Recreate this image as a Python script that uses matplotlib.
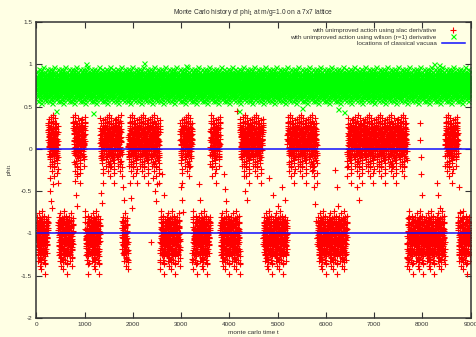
import matplotlib
matplotlib.use("Agg")
import matplotlib.pyplot as plt
import numpy as np

# regimes of the slac run: (end t, vacuum)
seg_end = [240, 450, 760, 1010, 1320, 1770, 1900, 2560, 2980, 3230, 3600, 3810,
           4220, 4700, 5200, 5820, 6440, 7680, 8470, 8740, 9000]
seg_vac = [-1, 0, -1, 0, -1, 0, -1, 0, -1, 0, -1, 0, -1, 0, -1, 0, -1, 0, -1, 0, -1]

# hand-read phi_1 wander around each vacuum (repeated along the run)
red_top_walk = [0.05, 0.12, 0.18, 0.1, 0.22, 0.28, 0.2, 0.3, 0.35, 0.26, 0.18, 0.24,
                0.15, 0.08, 0.14, 0.02, -0.06, 0.03, -0.1, -0.02, 0.07, 0.0, -0.12,
                -0.2, -0.08, 0.04, 0.12, 0.06, 0.16, 0.25, 0.32, 0.38, 0.3, 0.22, 0.27,
                0.17, 0.09, 0.19, 0.11, 0.01, -0.05, 0.06, -0.03, -0.15, -0.26, -0.18,
                -0.07, 0.02, 0.1, 0.21, 0.13, 0.23, 0.33, 0.4, 0.31, 0.24, 0.14, 0.2,
                0.08, -0.01, 0.09, -0.04, -0.14, -0.06, -0.22, -0.32, -0.2, -0.09, 0.0,
                0.11, 0.04, 0.15, 0.26, 0.19, 0.29, 0.36, 0.25, 0.16, 0.07, 0.13, 0.03,
                -0.08, 0.01, -0.11, -0.03, 0.08, 0.17, 0.1, 0.21, 0.3, 0.23, 0.12, 0.18,
                0.06, -0.02, -0.13, -0.05, 0.05, -0.07, -0.17, -0.28, -0.4, -0.24, -0.1,
                0.0, 0.09, 0.2, 0.27, 0.34, 0.24, 0.15, 0.22, 0.12, 0.04, 0.1, -0.01,
                0.07]
red_bottom_walk = [-1.05, -0.98, -0.9, -0.96, -0.86, -0.8, -0.88, -0.94, -1.02, -1.1,
                   -1.04, -1.15, -1.22, -1.14, -1.26, -1.33, -1.24, -1.18, -1.08, -1.0,
                   -0.93, -1.01, -0.91, -0.84, -0.76, -0.85, -0.92, -0.99, -1.07, -1.16,
                   -1.09, -1.2, -1.29, -1.38, -1.28, -1.19, -1.11, -1.03, -1.12, -0.97,
                   -0.89, -0.82, -0.9, -0.98, -1.06, -1.13, -1.21, -1.3, -1.23, -1.34,
                   -1.42, -1.31, -1.2, -1.1, -1.0, -0.92, -0.83, -0.74, -0.81, -0.87,
                   -0.95, -1.03, -1.11, -1.05, -1.17, -1.25, -1.15, -1.07, -0.99, -1.08,
                   -0.96, -0.88, -0.94, -1.02, -1.13, -1.24, -1.32, -1.22, -1.12, -1.04,
                   -0.95, -0.86, -0.79, -0.88, -0.97, -1.06, -1.0, -1.1, -1.19, -1.27,
                   -1.36, -1.48, -1.35, -1.21, -1.09, -0.98, -0.9, -0.83, -0.91, -1.01,
                   -1.09, -1.18, -1.1, -1.02, -0.93, -0.85, -0.93, -1.04, -1.14, -1.23,
                   -1.13, -1.06]
green_walk = [0.76, 0.72, 0.8, 0.85, 0.78, 0.7, 0.64, 0.71, 0.79, 0.86, 0.92, 0.84,
              0.77, 0.69, 0.62, 0.57, 0.65, 0.73, 0.81, 0.88, 0.82, 0.75, 0.68, 0.74,
              0.83, 0.9, 0.95, 0.87, 0.79, 0.72, 0.66, 0.6, 0.67, 0.75, 0.82, 0.78,
              0.71, 0.77, 0.85, 0.91, 0.84, 0.76, 0.69, 0.63, 0.58, 0.54, 0.61, 0.7,
              0.78, 0.86, 0.93, 0.88, 0.8, 0.73, 0.79, 0.74, 0.67, 0.72, 0.81, 0.87,
              0.83, 0.76, 0.7, 0.64, 0.69, 0.77, 0.84, 0.9, 0.97, 0.89, 0.81, 0.74,
              0.68, 0.62, 0.66, 0.73, 0.8, 0.75, 0.71, 0.78, 0.86, 0.82, 0.77, 0.7,
              0.63, 0.59, 0.65, 0.72, 0.79, 0.85, 0.91, 0.86, 0.78, 0.73, 0.68, 0.75,
              0.83, 0.89, 0.84, 0.76, 0.71, 0.65, 0.6, 0.56, 0.63, 0.71, 0.8, 0.87,
              0.94, 0.88, 0.82, 0.76, 0.7, 0.74, 0.8]

# isolated tunnelling points between the vacua
red_extra_t = [270, 290, 310, 330, 350, 790, 810, 830, 850, 1330, 1350, 1790, 1810,
               1930, 1960, 1990, 2420, 2450, 2480, 2500, 2600, 2640, 3000, 3020, 3040,
               3380, 3400, 3880, 3900, 3920, 4300, 4330, 4360, 4820, 4900, 5000, 5100,
               5160, 5740, 5760, 5780, 5800, 6200, 6230, 6250, 6640, 6680, 7950, 7960,
               7970, 7980, 7990, 8000, 8300, 8330, 8360, 8760, 8780, 2380, 4150]
red_extra_y = [-0.35, -0.5, -0.62, -0.7, -0.42, -0.38, -0.55, -0.68, -0.3, -0.52, -0.64,
               -0.45, -0.6, -0.4, -0.58, -0.7, -0.35, -0.5, -0.62, -0.42, -0.3, -0.55,
               -0.45, -0.6, -0.75, -0.42, -0.6, -0.3, -0.48, -0.62, -0.32, -0.5, -0.6,
               -0.35, -0.55, -0.68, -0.45, -0.6, -0.25, -0.45, -0.65, -0.85, -0.25,
               -0.45, -0.68, -0.45, -0.6, 0.3, 0.1, -0.1, -0.3, -0.55, -0.85, -0.4,
               -0.55, -0.7, -0.45, -0.75, -1.1, 0.45]
green_extra_t = [410, 1020, 1180, 2220, 3100, 4200, 5500, 6250, 6380, 8250, 8350]
green_extra_y = [0.45, 1.0, 0.42, 1.02, 0.98, 0.45, 0.48, 0.47, 0.44, 1.0, 0.99]

vacua = [0, -1]
legend_labels = ["with unimproved action using slac derivative",
                 "with unimproved action using wilson (r=1) derivative",
                 "locations of classical vacuaa"]

bg = "#ffffe4"
ink = "#333333"
plt.rcParams["font.family"] = ["Liberation Sans", "DejaVu Sans"]

# build the series from the regime table
t = np.arange(0, 9000, 2)
red_y = np.empty(len(t))
for i, ti in enumerate(t):
    k = min(np.searchsorted(seg_end, ti, side="right"), len(seg_vac) - 1)
    walk = red_top_walk if seg_vac[k] == 0 else red_bottom_walk
    red_y[i] = walk[i % len(walk)]
green_y = np.array([green_walk[i % len(green_walk)] for i in range(len(t))])

fig = plt.figure(figsize=(4.77, 3.37), dpi=100, facecolor=bg)
ax = fig.add_axes([0.0765, 0.0564, 0.9099, 0.8783], facecolor=bg)

ax.plot(np.concatenate([t, red_extra_t]), np.concatenate([red_y, red_extra_y]),
        ls="none", marker="+", ms=4.6, mew=0.8, color="#ff0000", label=legend_labels[0])
ax.plot(np.concatenate([t, green_extra_t]), np.concatenate([green_y, green_extra_y]),
        ls="none", marker="x", ms=3.6, mew=0.8, color="#00ff00", label=legend_labels[1])
for j, v in enumerate(vacua):
    ax.axhline(v, color="#1010ff", lw=1.1, label=legend_labels[2] if j == 0 else None)

ax.set_xlim(0, 9000)
ax.set_ylim(-2, 1.5)
ax.set_xticks(np.arange(0, 9001, 1000))
ax.set_yticks([-2, -1.5, -1, -0.5, 0, 0.5, 1, 1.5])
ax.set_yticklabels(["-2", "-1.5", "-1", "-0.5", "0", "0.5", "1", "1.5"])
ax.tick_params(direction="in", length=4, width=0.8, labelsize=4.6, colors=ink,
               top=True, right=True, pad=3)
for s in ax.spines.values():
    s.set_color(ink)
    s.set_linewidth(1.1)

ax.set_title("Monte Carlo history of phi$_1$ at m/g=1.0 on a 7x7 lattice",
             fontsize=4.8, color=ink, pad=6)
ax.set_xlabel("monte carlo time t", fontsize=4.6, color=ink, labelpad=2)
ax.set_ylabel("phi$_1$", fontsize=4.6, color=ink, labelpad=5)

ax.legend(loc="upper right", frameon=False, markerfirst=False, fontsize=4.6,
          handlelength=3.6, labelspacing=0.15, borderaxespad=0.5, handletextpad=0.8,
          labelcolor=ink)

fig.savefig("out.png", dpi=100, facecolor=bg)
